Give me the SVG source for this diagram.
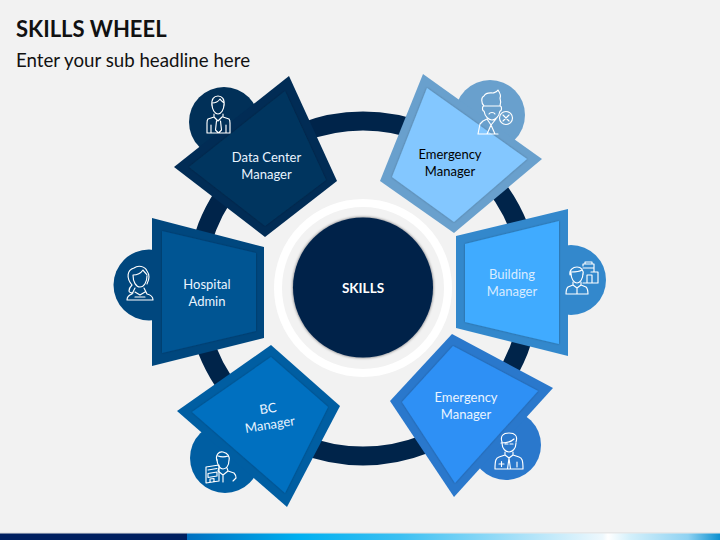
<svg xmlns="http://www.w3.org/2000/svg" width="720" height="540" viewBox="0 0 720 540">
<style>
text{font-family:Lato,"Open Sans","Liberation Sans",sans-serif;text-anchor:middle}
.l{font-size:13px;fill:#eaf4ff}
.ic{fill:none;stroke:#fff;stroke-width:1.150;stroke-linejoin:round;stroke-linecap:round}
</style>
<defs>
<linearGradient id="bar" x1="0" y1="0" x2="1" y2="0">
<stop offset="0" stop-color="#0070c0"/><stop offset=".21" stop-color="#00b0f0"/><stop offset=".4" stop-color="#3cc0f2"/><stop offset=".62" stop-color="#a6e0f8"/><stop offset=".78" stop-color="#eef8fd"/><stop offset=".79" stop-color="#fff"/><stop offset=".83" stop-color="#d4f0fb"/><stop offset=".94" stop-color="#8fd2f2"/><stop offset="1" stop-color="#0c90d0"/>
</linearGradient>
<filter id="soft" x="-15%" y="-15%" width="130%" height="130%"><feDropShadow dx="0" dy="0" stdDeviation="1" flood-color="#000" flood-opacity=".3"/></filter>
<filter id="glow" x="-10%" y="-10%" width="120%" height="120%"><feDropShadow dx="0" dy="0" stdDeviation="1.600" flood-color="#000" flood-opacity=".6"/></filter>
</defs>
<rect width="720" height="540" fill="#f2f2f2"/>
<text x="16" y="37" style="text-anchor:start;font-size:22px;font-weight:700" fill="#111">SKILLS WHEEL</text>
<text x="16" y="66.500" style="text-anchor:start;font-size:18.700px" fill="#111">Enter your sub headline here</text>
<rect y="532.500" width="720" height="1" fill="#dcdcdc"/>
<rect x="0" y="533.500" width="187" height="6.500" fill="#002060"/>
<rect x="187" y="533.500" width="533" height="6.500" fill="url(#bar)"/>
<g id="connectors"><circle cx="363" cy="288.500" r="167.500" fill="none" stroke="#00244a" stroke-width="19"/></g>
<g id="hub">
<circle cx="363" cy="288" r="85" fill="none" stroke="#fff" stroke-width="8"/>
<circle cx="363" cy="287.500" r="70" fill="#00234a" filter="url(#glow)"/>
<text x="363" y="292.500" style="font-size:13.500px;font-weight:700" fill="#fff">SKILLS</text>
</g>
<g id="node-data-center">
<circle cx="224" cy="122" r="35" fill="#013058"/>
<polygon points="289,76 337,181 265,237 174,167" fill="#012c55"/>
<polygon points="285,91 326,180 265,226 189,167" fill="#02365f" filter="url(#soft)"/>
<text class="l" x="266.500" y="162">Data Center</text><text class="l" x="266.500" y="179">Manager</text>
<path class="ic" d="M212,106c-1-7 2-10 6-10s7,3 6,10M212,104c0,6 3,10 6,10s6-4 6-10M212,103c3,0 6-1 8-4 1,2 3,3 4,4M214,114l0,3-6,2c-1,1-1,2-1,4v10h23v-10c0-2 0-3-1-4l-6-2 0-3M214,117l4,4 4-4M216.500,121l-1,9 3,3 3-3-1-9M211,125v8M226,125v8"/>
</g>
<g id="node-emergency-top">
<circle cx="490" cy="115" r="35" fill="#69a0cd"/>
<polygon points="423,74 542,159 454,233 380,181" fill="#69a0cd"/>
<polygon points="427,88 527,159 454,222 392,177" fill="#83c7ff" filter="url(#soft)"/>
<text class="l" x="450" y="159" style="fill:#000">Emergency</text><text class="l" x="450" y="176" style="fill:#000">Manager</text>
<path class="ic" d="M484,106c-3-3-3-9 0-10 2-4 6-3 9-3 3-1 4-1 5-3 2,3 3,6 2,8 1,3 1,5 0,8H484M484,106c-2,0-2,5 0,5 1,6 5,9 8,9s7-3 8-9c2,0 2-5 0-5M489,114c1-2 5-2 6,0M487,119l-4,2-3,3-2,10h20M487,119l4,6 5-6M491,125l-4,9M491,125l4,9"/>
<circle class="ic" cx="506" cy="118" r="6.500"/><path class="ic" d="M503,115l6,6M509,115l-6,6"/>
</g>
<g id="node-building">
<circle cx="571" cy="280" r="35" fill="#3388cc"/>
<polygon points="568,209 568,356 456,328 456,236" fill="#3388cc"/>
<polygon points="559,221 559,344 465,322 465,244" fill="#3fabff" filter="url(#soft)"/>
<text class="l" x="512" y="279" style="fill:#d8ecff">Building</text><text class="l" x="512" y="296" style="fill:#d8ecff">Manager</text>
<path class="ic" d="M570,275c-1-5 3-8 7-8s7,3 6,8M571,273c0,6 3,10 6,10s6-4 6-10M571,272c4,0 8,0 11-2M573,282v3l-5,2c-1,1-2,3-2,7h22c0-4-1-6-2-7l-5-2v-3M573,285l4,3 4-3M577,288v6"/>
<path class="ic" d="M583,266v-2h11v8h4v11h-15M585,264v-2h7v2M587,283v-8h5v8M583,268h11M594,272h-3"/>
</g>
<g id="node-emergency-bottom">
<circle cx="506" cy="445" r="35" fill="#2a78cc"/>
<polygon points="452,334 553,388 454,497 390,401" fill="#2a78cc"/>
<polygon points="453,346 538,391 455,483 402,402" fill="#2e90f5" filter="url(#soft)"/>
<text class="l" x="466" y="402">Emergency</text><text class="l" x="466" y="419">Manager</text>
<path class="ic" d="M502,442c-2-6 1-9 7-9s9,3 7,9M502,443c0,6 4,9 7,9s7-3 7-9M501,443c4,0 10-1 13-4M505,444h3M510,444h3M505,452v3l-6,2c-3,1-4,3-4,12h28c0-9-1-11-4-12l-6-2v-3M505,455l4,3 4-3M509,458l-1.500,11M509,458l1.500,11M499,464h5M501.500,461.500v5M517,462v5"/>
</g>
<g id="node-bc">
<circle cx="225" cy="458" r="35" fill="#005ea2"/>
<polygon points="271,345 340,406 287,507 177,411" fill="#005ea2"/>
<polygon points="271,357 328,407 285,493 192,412" fill="#0070c0" filter="url(#soft)"/>
<text class="l" transform="rotate(-9 268 409)" x="268" y="413">BC</text><text class="l" transform="rotate(-9 270 425)" x="270" y="429">Manager</text>
<path class="ic" d="M217,461c-2-6 2-10 6-9s7,4 6,9M217,459c0,6 3,10 6,10s6-3 6-9M218,456c3,1 7,1 10,0M219,468l-1,3 5,4 5-4-1-3M228,471l6,2c1,1 2,3 2,5l-3,3M223,475v7"/>
<path class="ic" d="M206,467l13-2v16l-13,2zM208,470l9-1.500M208,473.500l9-1.500v4l-9,1.500zM210,482v-3l4-.5v3"/>
</g>
<g id="node-hospital">
<circle cx="149" cy="285" r="35.500" fill="#00477e"/>
<polygon points="152,218 264,247 264,338 152,366" fill="#00477e"/>
<polygon points="162,231 256,253 256,331 162,353" fill="#005493" filter="url(#soft)"/>
<text class="l" x="207" y="289">Hospital</text><text class="l" x="207" y="306">Admin</text>
<path class="ic" d="M132,285c-6-7-5-15 2-17 4-3 11-2 13,3 3,4 2,9 0,13M133,275c0,7 3,12 7,12s7-5 7-11M133,275c5,0 8-2 10-5 1,2 3,3 4,5M132,285c-2,2-3,5-3,6s2,2 4,2M135,288l-3,6c-3,1-5,3-5,6h26c0-3-2-5-6-6l-3-6M135,292l5,3 5-3M135,297h10"/>
</g>
</svg>
